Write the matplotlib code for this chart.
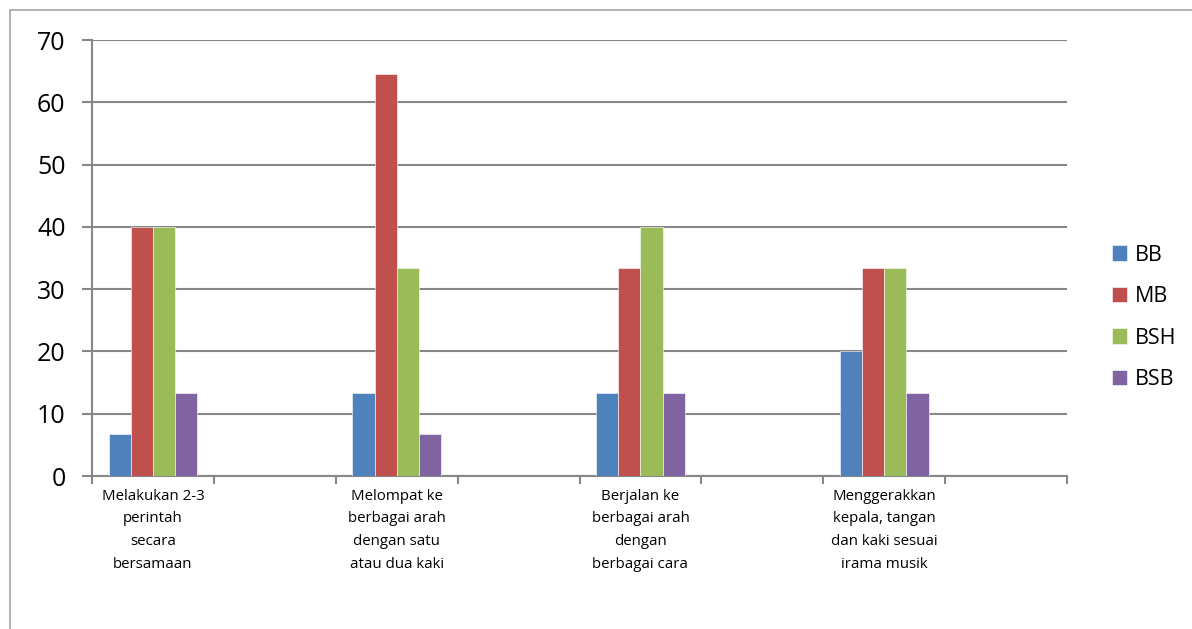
import matplotlib
matplotlib.use("Agg")
import matplotlib.pyplot as plt
from matplotlib.patches import Rectangle
import numpy as np

plt.rcParams['font.family'] = ['Open Sans', 'DejaVu Sans']

categories = ["Melakukan 2-3\nperintah\nsecara\nbersamaan", "",
              "Melompat ke\nberbagai arah\ndengan satu\natau dua kaki", "",
              "Berjalan ke\nberbagai arah\ndengan\nberbagai cara", "",
              "Menggerakkan\nkepala, tangan\ndan kaki sesuai\nirama musik", ""]
series_names = ["BB", "MB", "BSH", "BSB"]
BB = [6.67, np.nan, 13.33, np.nan, 13.33, np.nan, 20.0, np.nan]
MB = [40.0, np.nan, 64.6, np.nan, 33.33, np.nan, 33.33, np.nan]
BSH = [40.0, np.nan, 33.33, np.nan, 40.0, np.nan, 33.33, np.nan]
BSB = [13.33, np.nan, 6.67, np.nan, 13.33, np.nan, 13.33, np.nan]
colors = ["#4F81BD", "#C0504D", "#9BBB59", "#8064A2"]
yticks = [0, 10, 20, 30, 40, 50, 60, 70]

W, H = 1192, 629
fig = plt.figure(figsize=(W / 100, H / 100), dpi=100)
ax = fig.add_axes([92 / W, 1 - 476 / H, (1067 - 92) / W, (476 - 40) / H])

# outer chart frame
fig.patches.append(Rectangle((10 / W, -0.1), 1.2, 1 - 10 / H + 0.1, transform=fig.transFigure,
                             fill=False, edgecolor="#A6A6A6", linewidth=1.2))

n = len(categories)
x = np.arange(n)
bw = 1 / 5.5
for i, (name, vals) in enumerate(zip(series_names, [BB, MB, BSH, BSB])):
    ax.bar(x + (i - 1.5) * bw, vals, width=bw, color=colors[i], label=name,
           edgecolor="white", linewidth=0.4, zorder=3)

ax.set_xlim(-0.5, n - 0.5)
ax.set_ylim(0, 70)
ax.set_yticks(yticks)
ax.set_yticklabels([str(v) for v in yticks], fontsize=18)
ax.yaxis.grid(True, color="#878787", linewidth=1.5, zorder=0)
ax.set_axisbelow(True)

ax.set_xticks(x)
ax.set_xticklabels(categories, fontsize=10.8, linespacing=1.72)
ax.tick_params(axis='x', length=0, pad=9)
ax.set_xticks(np.arange(n + 1) - 0.5, minor=True)
ax.tick_params(axis='x', which='minor', length=6, width=1.5, color="#878787", direction='out')
ax.tick_params(axis='y', length=7, width=1.5, color="#878787", direction='out', pad=12)

for s in ['top', 'right']:
    ax.spines[s].set_visible(False)
for s in ['left', 'bottom']:
    ax.spines[s].set_color("#878787")
    ax.spines[s].set_linewidth(1.5)

leg = fig.legend(loc='upper left', bbox_to_anchor=(1103 / W, 1 - 236 / H), frameon=False,
                 fontsize=15.5, handlelength=0.72, handleheight=0.72, labelspacing=0.95,
                 handletextpad=0.35, borderaxespad=0)

fig.savefig("out.png", dpi=100)
